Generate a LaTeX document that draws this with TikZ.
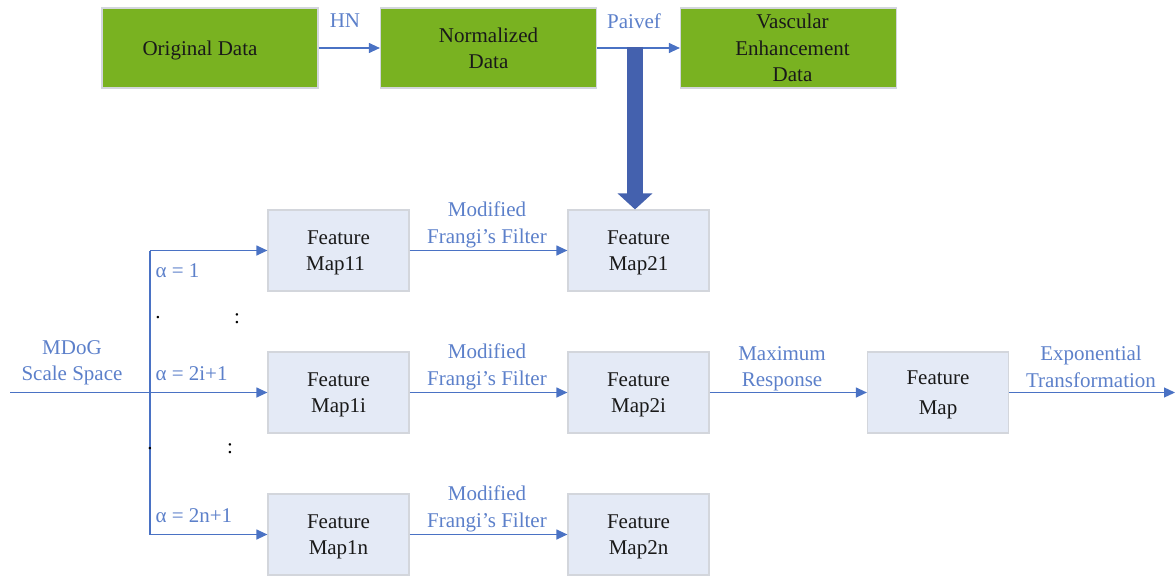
\documentclass[tikz,border=0pt]{standalone}
\usepackage{fontspec}
\setmainfont{Liberation Serif}
\usetikzlibrary{arrows.meta}
\definecolor{grn}{HTML}{79B221}
\definecolor{lb}{HTML}{E4EAF6}
\definecolor{bd}{HTML}{D3D6DC}
\definecolor{ln}{HTML}{4A72C4}
\definecolor{big}{HTML}{4461AE}
\begin{document}
\begin{tikzpicture}[x=1pt,y=-1pt,
  every node/.style={font=\fontsize{21}{26.5}\selectfont, align=center},
  gbox/.style={draw=bd, line width=1.2pt, fill=grn, minimum width=216pt, minimum height=80pt, text=black!90, text depth=0pt},
  fbox/.style={draw=bd, line width=1.2pt, fill=lb, minimum width=141pt, minimum height=81pt, text=black!90, text depth=0pt},
  lbl/.style={text=ln!90!white},
  conn/.style={draw=ln, line width=1.2pt, -{Triangle[length=11pt,width=10pt]}},
  plain/.style={draw=ln, line width=1.2pt}]
\useasboundingbox (0,0) rectangle (1176,578);
% top row
\node[gbox] (orig) at (210,48) {Original Data\hspace*{20pt}};
\node[gbox] (norm) at (488.5,48) {Normalized\\Data};
\node[gbox] (vasc) at (788.5,48) {\hspace*{8pt}Vascular\\\hspace*{8pt}Enhancement\\\hspace*{8pt}Data};
\draw[conn] (orig.east) -- (norm.west);
\node[lbl] (hn) at (345,21) {HN};
\draw[conn] (norm.east) -- (vasc.west);
\node[lbl] (pv) at (634,21) {Paivef};
% feature maps
\node[fbox] (m11) at (338.5,250.5) {Feature\\Map11\hspace*{6pt}};
\node[fbox] (m21) at (638.5,250.5) {Feature\\Map21};
\node[fbox] (m1i) at (338.5,392.5) {Feature\\Map1i};
\node[fbox] (m2i) at (638.5,392.5) {Feature\\Map2i};
\node[fbox] (fm) at (938,392.5) {Feature\\[4pt]Map};
\node[fbox] (m1n) at (338.5,534.5) {Feature\\Map1n};
\node[fbox] (m2n) at (638.5,534.5) {Feature\\Map2n};
% big arrow
\coordinate (bs) at (635,47);
\draw[big, line width=16pt, -{Triangle[length=16pt,width=34pt]}] (bs) -- (bs |- m21.north);
% input
\coordinate (in) at (10,392.5);
\coordinate (sp) at (150,392.5);
\coordinate (out) at (1175,392.5);
\draw[plain] (in) -- (sp);
\draw[conn] (sp) -- (m1i.west);
\draw[plain] (sp |- m11.west) -- (sp |- m1n.west);
\draw[conn] (sp |- m11.west) -- (m11.west);
\draw[conn] (sp |- m1n.west) -- (m1n.west);
\node[lbl] (mdog) at (72,363) {MDoG\\Scale Space};
\node[lbl, anchor=west] (a1) at (152,271) {α = 1};
\node[lbl, anchor=west] (a2) at (152,374) {α = 2i+1};
\node[lbl, anchor=west] (a3) at (152,516) {α = 2n+1};
\node (d1) at (158,318) {.};
\node (c1) at (237,319) {:};
\node (d2) at (150,449) {.};
\node (c2) at (230,449) {:};
% frangi
\draw[conn] (m11.east) -- (m21.west);
\draw[conn] (m1i.east) -- (m2i.west);
\draw[conn] (m1n.east) -- (m2n.west);
\node[lbl] (f1) at (487,225) {Modified\\Frangi’s Filter};
\node[lbl] (f2) at (487,367) {Modified\\Frangi’s Filter};
\node[lbl] (f3) at (487,509) {Modified\\Frangi’s Filter};
\draw[conn] (m2i.east) -- (fm.west);
\node[lbl] (mr) at (782,369) {Maximum\\Response};
\draw[conn] (fm.east) -- (out);
\node[lbl] (et) at (1091,367) {Exponential\\Transformation};
\end{tikzpicture}
\end{document}
